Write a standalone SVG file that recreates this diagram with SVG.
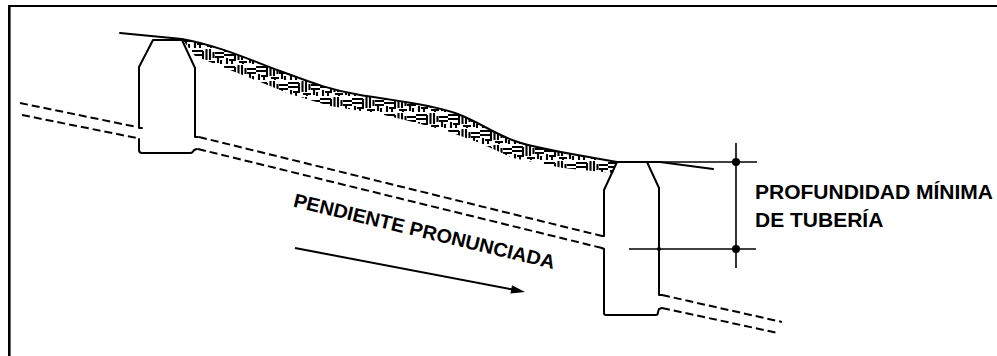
<svg xmlns="http://www.w3.org/2000/svg" width="997" height="356" viewBox="0 0 997 356">
<style>
.ln{fill:none;stroke:#000;stroke-width:2;stroke-linejoin:round;stroke-linecap:round}
.pipe{fill:none;stroke:#000;stroke-width:2;stroke-dasharray:8 4}
.dim{fill:none;stroke:#000;stroke-width:1.6}
.lbl{font-family:"Liberation Sans",Arial,sans-serif;font-weight:bold;fill:#000}
</style>
<defs>
<pattern id="soil" width="32" height="16" patternUnits="userSpaceOnUse">
<path d="M0,3H11 M0,7H11 M11,3V11 M14.5,1V12 M18,1V12 M21.5,4V10 M23,5H32 M23,9H32 M26,9V15 M3,10V16 M5,12H12 M8,12V16 M15,14H23 M19,14V16 M29,12V16" stroke="#000" stroke-width="2.1" fill="none"/>
</pattern>
</defs>
<rect width="997" height="356" fill="#fff"/>
<g id="frame">
<line x1="9.3" y1="5" x2="9.3" y2="356" stroke="#000" stroke-width="2.6"/>
<line x1="8" y1="6" x2="997" y2="6" stroke="#000" stroke-width="2.2"/>
</g>
<g id="soil-band">
<path d="M182,39 C220,46 250,60 280,71 S330,90 360,95 S430,104 455,113 S490,132 515,141 S580,155 617,162 L613,173 L563,168 L513,158 L480,143 L447,131 L413,122 L380,114 L330,106 L290,94 L250,78 L220,66 L195,56 Z" fill="url(#soil)"/>
</g>
<g id="ground">
<path class="ln" d="M120,33 L182,39 C220,46 250,60 280,71 S330,90 360,95 S430,104 455,113 S490,132 515,141 S580,155 617,162 L660,162" stroke-width="2.4"/>
<path class="ln" d="M660,162 L713,169"/>
</g>
<g id="pipes">
<path class="pipe" d="M20,103 L137,127"/>
<path class="pipe" d="M22,115 L137,138"/>
<path class="pipe" d="M199,137 L602,236"/>
<path class="pipe" d="M198,149 L602,248"/>
<path class="pipe" d="M662,295 L782,322"/>
<path class="pipe" d="M662,308 L778,333"/>
</g>
<g id="manhole-1">
<path class="ln" d="M142,128 L139,128 L139,67 L153,40 L182,40 L195,68 L195,137 L198,137"/>
<path class="ln" d="M139,139 L139,150 Q139,153 142,153 L190,153 Q193,153 194,150 L197,149"/>
</g>
<g id="manhole-2">
<path class="ln" d="M602,236 L604,236 L604,190 L617,162 L647,162 L659,188 L659,295 L662,295"/>
<path class="ln" d="M602,248 L604,249 L604,313 Q604,315 606,315 L656,315 Q658,315 658,312 L659,309 L662,308"/>
</g>
<g id="dimension">
<line class="dim" x1="736" y1="143" x2="736" y2="268"/>
<line class="dim" x1="647" y1="162" x2="757" y2="162"/>
<line class="dim" x1="629" y1="249" x2="756" y2="249"/>
<circle cx="736" cy="162" r="4"/>
<circle cx="736" cy="249" r="4"/>
<circle cx="659" cy="249" r="2"/>
</g>
<g id="slope-arrow">
<line x1="295" y1="248" x2="513" y2="289.6" stroke="#000" stroke-width="2"/>
<polygon points="525,292 510.5,293.6 512,285.2"/>
</g>
<g id="labels">
<text class="lbl" x="292.5" y="206.5" font-size="19.5" transform="rotate(13.5 292.5 206.5)" textLength="268" lengthAdjust="spacingAndGlyphs">PENDIENTE PRONUNCIADA</text>
<text class="lbl" x="755" y="199" font-size="21">PROFUNDIDAD MÍNIMA</text>
<text class="lbl" x="755" y="227" font-size="21">DE TUBERÍA</text>
</g>
</svg>
